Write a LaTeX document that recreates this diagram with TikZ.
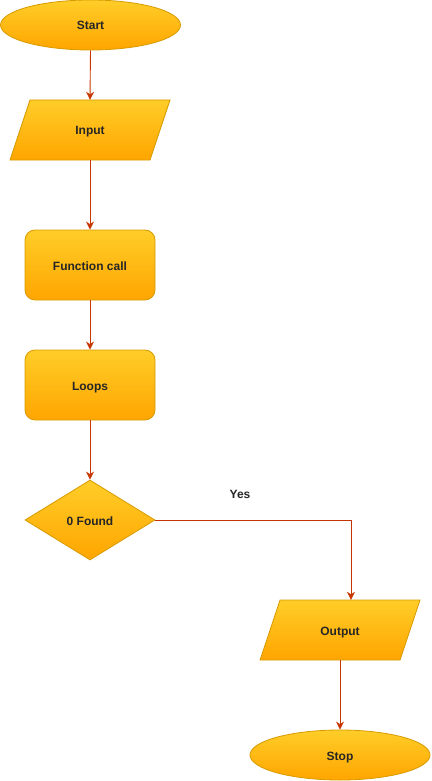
\documentclass[tikz,border=0pt]{standalone}
\usepackage{fontspec}
\setmainfont{Liberation Sans}
\usetikzlibrary{shapes.geometric,arrows.meta}
\definecolor{ftop}{HTML}{FFCD28}
\definecolor{fbot}{HTML}{FFA500}
\definecolor{fstroke}{HTML}{D79B00}
\definecolor{edgec}{HTML}{C73500}
\tikzset{
  txt/.style={font=\fontsize{12}{14}\selectfont\bfseries, text=black!85, text height=10pt, text depth=0pt},
  base/.style={txt, draw=fstroke, top color=ftop, bottom color=fbot, line width=0.8pt, inner sep=0pt},
  term/.style={base, ellipse, minimum width=180pt, minimum height=50pt},
  proc/.style={base, rectangle, rounded corners=10pt, minimum width=130pt, minimum height=70pt},
  decis/.style={base, diamond, aspect=1.625, minimum width=130pt, minimum height=80pt},
  iotext/.style={txt, inner sep=0pt, minimum width=140pt, minimum height=60pt},
  iobox/.style={draw=fstroke, top color=ftop, bottom color=fbot, line width=0.8pt},
  conn/.style={draw=edgec, line width=0.9pt, -{Stealth[length=8pt,width=8pt,inset=2.5pt]}},
  lbl/.style={txt}
}
\begin{document}
\begin{tikzpicture}[x=1pt,y=-1pt]
\useasboundingbox (0,0) rectangle (431,781);
\node[term] (start) at (90.5,25) {Start};
% Input parallelogram
\shadedraw[iobox] (30,100) -- (170,100) -- (150,160) -- (10,160) -- cycle;
\node[iotext] (inp) at (90,130) {Input};
\node[proc] (func) at (90,265) {Function call};
\node[proc] (loops) at (90,385) {Loops};
\node[decis] (found) at (90,520) {0 Found};
% Output parallelogram
\shadedraw[iobox] (280,600) -- (420,600) -- (400,660) -- (260,660) -- cycle;
\node[iotext] (out) at (340,630) {Output};
\node[term] (stop) at (340,755) {Stop};
\node[lbl] (yes) at (240,493) {Yes};

\draw[conn] (start.south) -- (inp.north);
\draw[conn] (inp.south) -- (func.north);
\draw[conn] (func.south) -- (loops.north);
\draw[conn] (loops.south) -- (found.north);
\draw[conn] (found.east) -| ([xshift=11pt]out.north);
\draw[conn] (out.south) -- (stop.north);
\end{tikzpicture}
\end{document}
